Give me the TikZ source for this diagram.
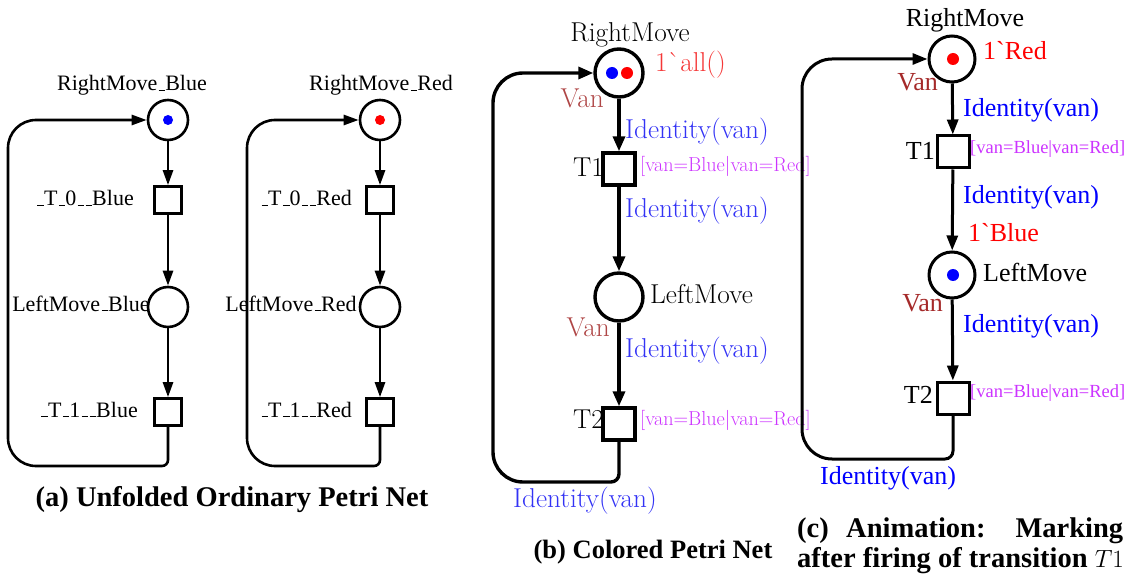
\documentclass[tikz,border=0pt]{standalone}
\usepackage{fontspec}
\newfontfamily\tms{Liberation Serif}
\usetikzlibrary{arrows.meta}
\newcommand{\usc}{\leavevmode\kern.06em\vbox{\hrule width.3em height .05em}}
\definecolor{idB}{RGB}{51,51,245}
\definecolor{idC}{RGB}{0,0,255}
\definecolor{vanB}{RGB}{175,70,70}
\definecolor{vanC}{RGB}{165,42,42}
\definecolor{guardcol}{RGB}{204,51,255}
\definecolor{mkB}{RGB}{245,55,55}
\definecolor{mkC}{RGB}{255,0,0}
\begin{document}
\begin{tikzpicture}[x=1pt,y=-1pt,
  % panel (a): unfolded net
  placeA/.style={circle,draw,line width=2.6pt,minimum size=40pt,inner sep=0pt},
  transA/.style={rectangle,draw,line width=2.6pt,minimum size=27pt,inner sep=0pt},
  labA/.style={font=\tms\fontsize{22}{26}\selectfont,inner sep=0pt},
  arcA/.style={line width=2.6pt,-{Triangle[length=15pt,width=10pt]}},
  % panel (b): coloured net
  placeB/.style={circle,draw,line width=3.4pt,minimum size=48pt,inner sep=0pt},
  transB/.style={rectangle,draw,line width=3.4pt,minimum size=32pt,inner sep=0pt},
  labB/.style={font=\fontsize{27.3}{31}\selectfont,inner sep=0pt},
  guardB/.style={font=\fontsize{20.2}{24}\selectfont,inner sep=0pt,text=guardcol},
  arcB/.style={line width=3.4pt,-{Triangle[length=15pt,width=12pt]}},
  % panel (c): animation
  placeC/.style={circle,draw,line width=3pt,minimum size=46pt,inner sep=0pt},
  transC/.style={rectangle,draw,line width=3pt,minimum size=32pt,inner sep=0pt},
  labC/.style={font=\tms\fontsize{26}{30}\selectfont,inner sep=0pt},
  guardC/.style={font=\tms\fontsize{18.5}{22}\selectfont,inner sep=0pt,text=guardcol},
  arcC/.style={line width=3pt,-{Triangle[length=15pt,width=11pt]}},
  tok/.style={circle,fill,inner sep=0pt,minimum size=#1},
  caption/.style={font=\tms\bfseries\fontsize{28.5}{32}\selectfont,inner sep=0pt}
]
\useasboundingbox (0,0) rectangle (1133,580);

% ---------- (a) blue component ----------
\node[placeA] (bR) at (168,120) {};
\node[tok=10pt,blue] (bRtok) at (168,120) {};
\node[transA] (bT0) at (168,200) {};
\node[placeA] (bL) at (168,307) {};
\node[transA] (bT1) at (168,412) {};
\coordinate (bC) at (8,466);
\node[labA,anchor=base] at (132,91) {RightMove\usc Blue};
\node[labA,anchor=base east] at (134,206) {\usc T\usc 0\usc\usc Blue};
\node[labA,anchor=base] at (81,311) {LeftMove\usc Blue};
\node[labA,anchor=base east] at (138,417) {\usc T\usc 1\usc\usc Blue};
\draw[arcA] (bR) -- (bT0);
\draw[arcA] (bT0) -- (bL);
\draw[arcA] (bL) -- (bT1);
\draw[arcA] (bT1.south) [rounded corners=6pt] -- (bT1.south |- bC)
  [rounded corners=28pt] -- (bC) -- (bC |- bR.west) -- (bR.west);

% ---------- (a) red component ----------
\node[placeA] (rR) at (380,120) {};
\node[tok=10pt,red] (rRtok) at (380,120) {};
\node[transA] (rT0) at (380,200) {};
\node[placeA] (rL) at (380,307) {};
\node[transA] (rT1) at (380,412) {};
\coordinate (rC) at (247,466);
\node[labA,anchor=base] at (381,91) {RightMove\usc Red};
\node[labA,anchor=base east] at (352,206) {\usc T\usc 0\usc\usc Red};
\node[labA,anchor=base] at (291,311) {LeftMove\usc Red};
\node[labA,anchor=base east] at (352,417) {\usc T\usc 1\usc\usc Red};
\draw[arcA] (rR) -- (rT0);
\draw[arcA] (rT0) -- (rL);
\draw[arcA] (rL) -- (rT1);
\draw[arcA] (rT1.south) [rounded corners=6pt] -- (rT1.south |- rC)
  [rounded corners=28pt] -- (rC) -- (rC |- rR.west) -- (rR.west);

\node[caption,anchor=base] (capA) at (232,506) {(a) Unfolded Ordinary Petri Net};

% ---------- (b) coloured Petri net ----------
\node[placeB] (cR) at (619,73) {};
\node[tok=12pt,blue] (cRtok1) at (612,73) {};
\node[tok=12pt,red] (cRtok2) at (627,73) {};
\node[transB] (cT1) at (619,169) {};
\node[placeB] (cL) at (619,297) {};
\node[transB] (cT2) at (619,424) {};
\coordinate (cC) at (493,482);
\node[labB,anchor=base] at (630,42) {RightMove};
\node[labB,anchor=base west,text=mkB] at (655,72) {1\textasciigrave all()};
\node[labB,anchor=base east,text=vanB] at (604,108) {Van};
\node[labB,anchor=base west,text=idB] at (625,139) {Identity(van)};
\node[labB,anchor=base east] at (604,177) {T1};
\node[guardB,anchor=base west] at (640,172) {[van=Blue|van=Red]};
\node[labB,anchor=base west,text=idB] at (625,218) {Identity(van)};
\node[labB,anchor=base west] at (650,303) {LeftMove};
\node[labB,anchor=base east,text=vanB] at (610,336) {Van};
\node[labB,anchor=base west,text=idB] at (625,357) {Identity(van)};
\node[labB,anchor=base east] at (604,428) {T2};
\node[guardB,anchor=base west] at (640,425) {[van=Blue|van=Red]};
\node[labB,anchor=base west,text=idB] at (513,507) {Identity(van)};
\draw[arcB] (cR) -- (cT1);
\draw[arcB] (cT1) -- (cL);
\draw[arcB] (cL) -- (cT2);
\draw[arcB] (cT2.south) [rounded corners=8pt] -- (cT2.south |- cC)
  [rounded corners=30pt] -- (cC) -- (cC |- cR.west) -- (cR.west);

\node[caption,font=\tms\bfseries\fontsize{26.5}{30}\selectfont,anchor=base] (capB) at (653,558) {(b) Colored Petri Net};

% ---------- (c) marking after firing T1 ----------
\node[placeC] (dR) at (952,59) {};
\node[tok=12pt,red] (dRtok) at (953,59) {};
\node[transC] (dT1) at (953,152) {};
\node[placeC] (dL) at (952,275) {};
\node[tok=12pt,blue] (dLtok) at (953,275) {};
\node[transC] (dT2) at (953,398) {};
\coordinate (dC) at (802,459);
\node[labC,anchor=base] at (965,27) {RightMove};
\node[labC,anchor=base west,text=mkC] at (983,60) {1\textasciigrave Red};
\node[labC,anchor=base east,text=vanC] at (938,91) {Van};
\node[labC,anchor=base west,text=idC] at (963,117) {Identity(van)};
\node[labC,anchor=base east] at (935,160) {T1};
\node[guardC,anchor=base west] at (970,154) {[van=Blue|van=Red]};
\node[labC,anchor=base west,text=idC] at (963,204) {Identity(van)};
\node[labC,anchor=base west,text=mkC] at (968,242) {1\textasciigrave Blue};
\node[labC,anchor=base west] at (983,282) {LeftMove};
\node[labC,anchor=base east,text=vanC] at (943,312) {Van};
\node[labC,anchor=base west,text=idC] at (963,332) {Identity(van)};
\node[labC,anchor=base east] at (933,403) {T2};
\node[guardC,anchor=base west] at (970,397) {[van=Blue|van=Red]};
\node[labC,anchor=base west,text=idC] at (820,484) {Identity(van)};
\draw[arcC] (dR) -- (dT1);
\draw[arcC] (dT1) -- (dL);
\draw[arcC] (dL) -- (dT2);
\draw[arcC] (dT2.south) [rounded corners=8pt] -- (dT2.south |- dC)
  [rounded corners=30pt] -- (dC) -- (dC |- dR.west) -- (dR.west);

\node[caption,anchor=base west] (capC1) at (797,537) {\makebox[326pt][s]{(c) Animation: Marking}};
\node[caption,anchor=base west] (capC2) at (797,567) {after firing of transition $T1$};
\end{tikzpicture}
\end{document}
